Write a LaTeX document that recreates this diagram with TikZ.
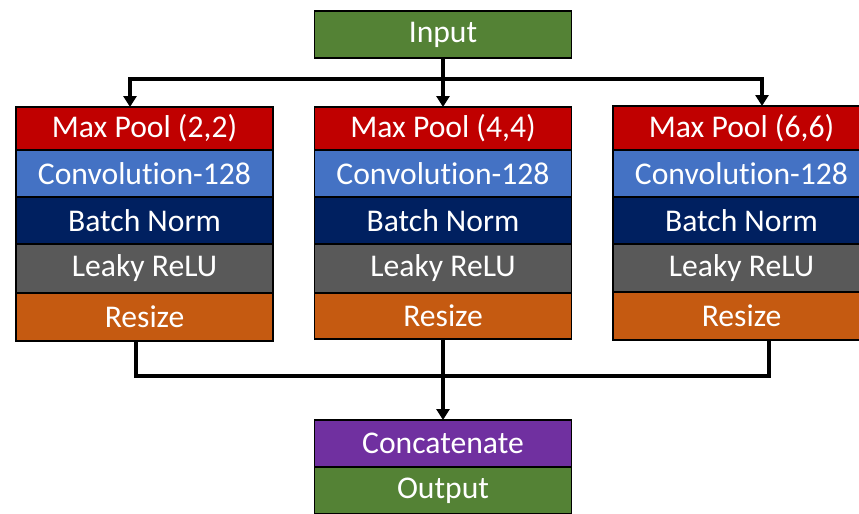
\documentclass[tikz,border=0pt]{standalone}
\usepackage{fontspec}
\setmainfont{Carlito}[RawFeature={-liga;-clig;-dlig}]
\usetikzlibrary{positioning,arrows.meta}
\definecolor{poolred}{HTML}{C00000}
\definecolor{convblue}{HTML}{4472C4}
\definecolor{normnavy}{HTML}{002060}
\definecolor{relugray}{HTML}{595959}
\definecolor{sizeorange}{HTML}{C55A11}
\definecolor{iogreen}{HTML}{548235}
\definecolor{catpurple}{HTML}{7030A0}
\tikzset{
  layer/.style={draw=black, line width=1pt, text=white, inner sep=0pt, outer sep=0pt,
    minimum width=5.14cm, minimum height=0.94cm, font=\fontsize{18}{21}\selectfont},
  link/.style={line width=2.2pt},
  arrowlink/.style={link, -{Triangle[width=0.26cm,length=0.22cm]}}
}
\begin{document}
\begin{tikzpicture}[x=0.02cm, y=-0.02cm]
\useasboundingbox (0, 0) rectangle (859, 514);
\node[layer, fill=iogreen] (in) at (443, 34.5) {Input};
\node[layer, fill=poolred, minimum height=0.86cm] (lp) at (144.5, 128.5) {Max Pool (2,2)};
\node[layer, fill=convblue, below=0pt of lp] (lc) {Convolut\kern0pt ion-128};
\node[layer, fill=normnavy, below=0pt of lc] (lb) {Batch Norm};
\node[layer, fill=relugray, below=0pt of lb, minimum height=0.98cm] (lr) {Leaky ReLU};
\node[layer, fill=sizeorange, below=0pt of lr, minimum height=0.96cm] (ls) {Resize};
\node[layer, fill=poolred, minimum height=0.86cm] (mp) at (443, 128.5) {Max Pool (4,4)};
\node[layer, fill=convblue, below=0pt of mp] (mc) {Convolut\kern0pt ion-128};
\node[layer, fill=normnavy, below=0pt of mc] (mb) {Batch Norm};
\node[layer, fill=relugray, below=0pt of mb, minimum height=0.98cm] (mr) {Leaky ReLU};
\node[layer, fill=sizeorange, below=0pt of mr, minimum height=0.92cm] (ms) {Resize};
\node[layer, fill=poolred, minimum height=0.88cm] (rp) at (741.5, 128) {Max Pool (6,6)};
\node[layer, fill=convblue, below=0pt of rp] (rc) {Convolut\kern0pt ion-128};
\node[layer, fill=normnavy, below=0pt of rc] (rb) {Batch Norm};
\node[layer, fill=relugray, below=0pt of rb, minimum height=0.96cm] (rr) {Leaky ReLU};
\node[layer, fill=sizeorange, below=0pt of rr, minimum height=0.96cm] (rs) {Resize};
\node[layer, fill=catpurple] (cat) at (443, 443.5) {Concatenate};
\node[layer, fill=iogreen, below=0pt of cat] (out) {Output};
\coordinate (tl) at (130, 79);
\coordinate (tm) at (443, 79);
\coordinate (tr) at (762, 79);
\coordinate (bl) at (136, 376);
\coordinate (bm) at (443, 376);
\coordinate (br) at (769, 376);
\draw[link] (in.south) -- (tm);
\draw[link, line cap=rect] (tl) -- (tr);
\draw[arrowlink] (tl) -- (tl |- lp.north);
\draw[arrowlink] (tm) -- (mp.north);
\draw[arrowlink] (tr) -- (tr |- rp.north);
\draw[link] (bl |- ls.south) -- (bl) -- (br) -- (br |- rs.south);
\draw[link] (ms.south) -- (bm);
\draw[arrowlink] (bm) -- (cat.north);
\end{tikzpicture}
\end{document}
